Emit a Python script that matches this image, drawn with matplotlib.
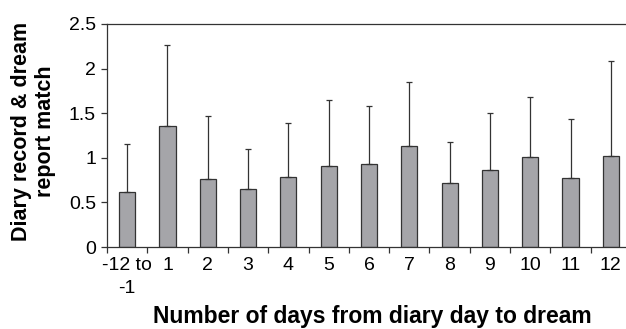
import numpy as np
import matplotlib.pyplot as plt

plt.rcParams['font.family'] = ['Liberation Sans', 'DejaVu Sans']

labels = ['-12 to\n-1', '1', '2', '3', '4', '5', '6', '7', '8', '9', '10', '11', '12']
means = [0.62, 1.36, 0.76, 0.65, 0.785, 0.91, 0.935, 1.135, 0.72, 0.865, 1.01, 0.775, 1.025]
err_top = [1.155, 2.27, 1.47, 1.10, 1.39, 1.645, 1.585, 1.855, 1.177, 1.50, 1.685, 1.43, 2.08]

errs = np.array(err_top) - np.array(means)
x = np.arange(len(labels))

fig = plt.figure(figsize=(6.26, 3.29), dpi=100)
ax = fig.add_axes([107/626, 1 - 247/329, 524/626, 223/329])

ax.bar(x, means, width=0.4, color='#a5a5a9', edgecolor='#333333', linewidth=0.9,
       yerr=[np.zeros(len(errs)), errs], capsize=2.5,
       error_kw=dict(ecolor='#333333', elinewidth=0.9, capthick=0.9))

ax.set_xlim(-0.5, len(labels) - 0.5)
ax.set_ylim(0, 2.5)
ax.set_yticks([0, 0.5, 1, 1.5, 2, 2.5])
ax.set_yticklabels(['0', '0.5', '1', '1.5', '2', '2.5'])

ax.set_xticks(x)
ax.set_xticklabels(labels, linespacing=1.5, va='top')
ax.set_xticks(np.arange(len(labels) + 1) - 0.5, minor=True)
ax.tick_params(axis='x', which='major', length=0, pad=7, labelsize=14)
ax.tick_params(axis='x', which='minor', length=4, width=0.9, color='#333333', direction='out')
ax.tick_params(axis='y', length=4, width=0.9, color='#333333', labelsize=14, pad=4)

for s in ['right', 'bottom', 'left', 'top']:
    ax.spines[s].set_color('#333333')
    ax.spines[s].set_linewidth(0.9)
ax.spines['right'].set_visible(False)

ax.set_xlabel('Number of days from diary day to dream', fontsize=16.5, fontweight='bold')
ax.xaxis.set_label_coords(0.506, -0.312)
ax.xaxis.label.set_va('center')
ax.set_ylabel('Diary record & dream\nreport match', fontsize=15.5, fontweight='bold',
              linespacing=1.15)
ax.yaxis.set_label_coords(-0.14, 0.52)
ax.yaxis.label.set_va('center')

fig.savefig('out.png', dpi=100)
